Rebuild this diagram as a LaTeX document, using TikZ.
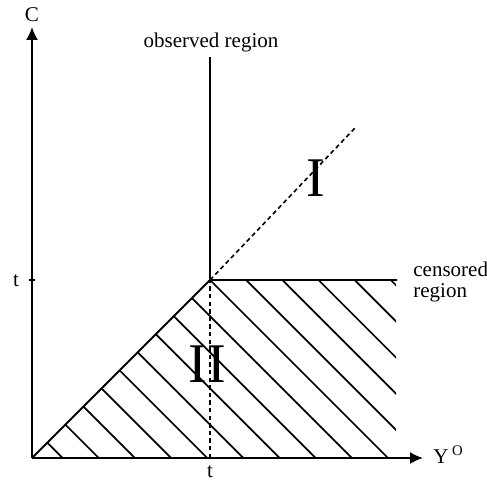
\documentclass[tikz,border=0pt]{standalone}
\usepackage{fontspec}
\setmainfont{Liberation Serif}
\usepackage{tikz}
\usetikzlibrary{arrows.meta}
\tikzset{
  axisline/.style={-{Latex[length=6.5pt,width=6pt]}, line width=0.9pt},
  edgeline/.style={line width=0.9pt},
  hatchline/.style={line width=0.85pt},
  guideline/.style={line width=0.8pt, dash pattern=on 2.2pt off 1.6pt},
  axislabel/.style={font=\fontsize{10.5}{10.5}\selectfont, inner sep=0pt},
  regionlabel/.style={font=\fontsize{10.5}{10.5}\selectfont, inner sep=0pt, align=left},
  numeral/.style={font=\fontsize{28}{28}\selectfont, inner sep=0pt}
}

\begin{document}
\begin{tikzpicture}[x=0.5pt, y=0.5pt]
  \useasboundingbox (-32,-25) rectangle (455,458);
  \coordinate (O) at (0,0);
  \coordinate (K) at (178,178);
  \coordinate (Xend) at (391,0);
  \coordinate (Yend) at (0,431);
  \coordinate (Ktop) at (178,401);
  \coordinate (Kbot) at (178,0);
  \coordinate (Kright) at (365,178);
  \coordinate (Kdiag) at (323,330);

  % hatched part (censored)
  \begin{scope}
    \clip (O) -- (K) -- (364,178) -- (364,0) -- cycle;
    \foreach \k in {0,...,14}
      \draw[hatchline] ({356+36.15*(\k-9)},0) -- ++(-300,300);
  \end{scope}
  \draw[edgeline] (O) -- (K) -- (Kright);

  % axes
  \draw[axisline] (O) -- (Xend);
  \draw[axisline] (O) -- (Yend);
  \draw[edgeline] (-3,178) -- (3,178);

  \draw[edgeline] (K) -- (Ktop);
  \draw[guideline] (Kbot) -- (K);
  \draw[guideline] (K) -- (Kdiag);

  \node[axislabel] (clab) at (0,443) {C};
  \node[axislabel] (tleft) at (-16,177) {t};
  \node[axislabel] (tbot) at (178,-14) {t};
  \node[axislabel, anchor=base west] (ylab) at (401,-5) {Y\,\textsuperscript{O}};
  \node[regionlabel, anchor=base] (obs) at (179,410) {observed region};
  \node[regionlabel, anchor=west] (cens) at (381,176) {censored\\region};
  \node[numeral] (one) at (284,280) {I};
  \node[numeral] (two) at (175,94) {II};
\end{tikzpicture}
\end{document}
